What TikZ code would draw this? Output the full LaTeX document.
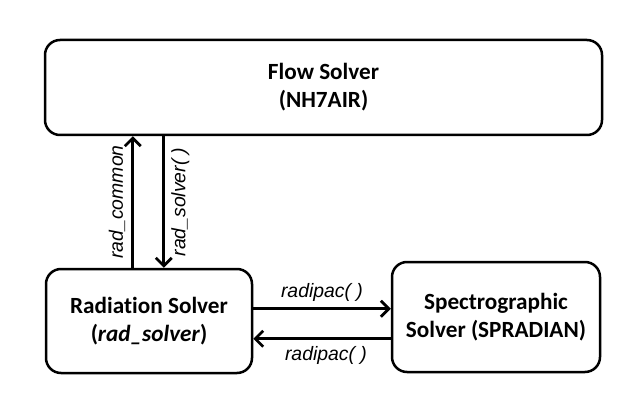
\documentclass[tikz,border=0pt]{standalone}
\usepackage{fontspec}
\setmainfont[Ligatures=NoCommon]{Carlito}
\newfontfamily\labelfont{Liberation Sans}
\usetikzlibrary{arrows.meta, positioning, calc}

\tikzset{
	solverbox/.style={draw, line width=1.25pt, rounded corners=7.5pt, align=center,
		font=\fontsize{11.6}{14}\selectfont\bfseries, inner sep=2pt},
	callarrow/.style={line width=1.6pt, -{Straight Barb[length=4pt, width=8pt, line width=1.4pt]}},
	calllabel/.style={font=\labelfont\fontsize{9.7}{11}\selectfont\itshape, inner sep=3pt}
}

\begin{document}
\begin{tikzpicture}[x=0.5pt, y=-0.5pt]
	\useasboundingbox (0,0) rectangle (625,406);
	\node[solverbox, minimum width=278.5pt, minimum height=47.5pt] (flow) at (323.5,87.5) {Flow Solver\\(NH7AIR)};
	\node[solverbox, minimum width=103pt, minimum height=52pt] (rad) at (149,321) {Radiation Solver\\(\textit{rad\_solver})};
	\node[solverbox, minimum width=104pt, minimum height=55pt] (spec) at (496,317) {Spectrographic\\Solver (SPRADIAN)};
	% flow solver <-> radiation solver
	\draw[callarrow] ([xshift=44pt]rad.north west) -- ([xshift=44pt]rad.north west |- flow.south)
		node[calllabel, midway, rotate=90, above] {rad\_common};
	\draw[callarrow] ([xshift=59.5pt]rad.north west |- flow.south) -- ([xshift=59.5pt]rad.north west)
		node[calllabel, midway, rotate=90, below] {rad\_solver( )};
	% radiation solver <-> spectrographic solver
	\draw[callarrow] ([yshift=-20.5pt]rad.north east) -- ([yshift=-20.5pt]rad.north east -| spec.west)
		node[calllabel, midway, above] {radipac( )};
	\draw[callarrow] ([yshift=-35.5pt]rad.north east -| spec.west) -- ([yshift=-35.5pt]rad.north east)
		node[calllabel, midway, below, xshift=2pt] {radipac( )};
\end{tikzpicture}
\end{document}
